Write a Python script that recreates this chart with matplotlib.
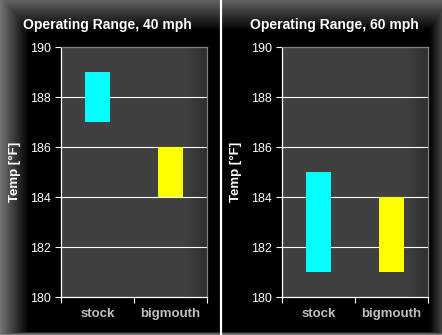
import numpy as np
import matplotlib.pyplot as plt

# data
categories = ['stock', 'bigmouth']
titles = ['Operating Range, 40 mph', 'Operating Range, 60 mph']
low_40 = [187, 184]
high_40 = [189, 186]
low_60 = [181, 181]
high_60 = [185, 184]
bar_colors = ['#00ffff', '#ffff00']
yticks = [180, 182, 184, 186, 188, 190]

W, H = 442, 335
fig = plt.figure(figsize=(W / 100, H / 100), dpi=100, facecolor='black')

# bevelled black background
yy, xx = np.mgrid[0:H, 0:W]
top = np.clip(1 - yy / 30.0, 0, 1) * 0.38
left = np.clip(1 - xx / 28.0, 0, 1) * 0.45
right = np.clip(1 - (W - 1 - xx) / 12.0, 0, 1) * 0.25
bottom = np.clip(1 - (H - 1 - yy) / 3.0, 0, 1) * 0.5
lvl = np.maximum.reduce([top, left, right, bottom])
bg = np.dstack([lvl, lvl, lvl])
bax = fig.add_axes([0, 0, 1, 1])
bax.imshow(bg, aspect='auto', extent=(0, W, H, 0))
bax.plot([220.5, 220.5], [0, H], color='white', lw=1.6)
bax.set_xlim(0, W)
bax.set_ylim(H, 0)
bax.axis('off')

lows = [low_40, low_60]
highs = [high_40, high_60]
lefts = [61, 282]
title_x = [-0.26, -0.22]

for i in range(2):
    ax = fig.add_axes([lefts[i] / W, 38 / H, 146 / W, 250 / H])
    ax.set_facecolor('#404040')
    fade = np.clip((np.arange(200) - 170) / 30.0, 0, 1)
    grad = np.ones((2, 200)) * (0.251 - 0.07 * fade)
    ax.imshow(np.dstack([grad, grad, grad]), aspect='auto', extent=(-0.5, 1.5, 180, 190),
              zorder=0)
    x = np.arange(len(categories))
    heights = [h - l for h, l in zip(highs[i], lows[i])]
    ax.bar(x, heights, bottom=lows[i], width=0.34, color=bar_colors, zorder=2)
    ax.set_xlim(-0.5, 1.5)
    ax.set_ylim(180, 190)
    ax.set_yticks(yticks)
    ax.set_yticklabels([str(t) for t in yticks], color='white', fontsize=9,
                       family='Liberation Sans')
    for t in yticks[1:-1]:
        ax.axhline(t, color='white', lw=0.8, zorder=1)
    ax.set_xticks(x)
    ax.set_xticklabels(categories, color='#c0c0c0', fontsize=9.5, fontweight='bold',
                       family='Liberation Sans')
    ax.set_xticks([-0.5, 0.5, 1.5], minor=True)
    ax.tick_params(axis='x', which='major', length=0, pad=8)
    ax.tick_params(axis='x', which='minor', length=4, color='white', width=0.8)
    ax.tick_params(axis='y', length=4, color='white', width=0.8, pad=3)
    for s in ['left', 'bottom']:
        ax.spines[s].set_color('white')
        ax.spines[s].set_linewidth(0.9)
    for s in ['top', 'right']:
        ax.spines[s].set_color('#808080')
        ax.spines[s].set_linewidth(0.9)
    ax.set_ylabel('Temp [°F]', color='white', fontsize=9.5, fontweight='bold',
                  family='Liberation Sans', labelpad=7)
    ax.set_title(titles[i], color='white', fontsize=10, fontweight='bold',
                 family='Liberation Sans', loc='left', x=title_x[i], pad=13)

fig.savefig('out.png', dpi=100, facecolor='black')
